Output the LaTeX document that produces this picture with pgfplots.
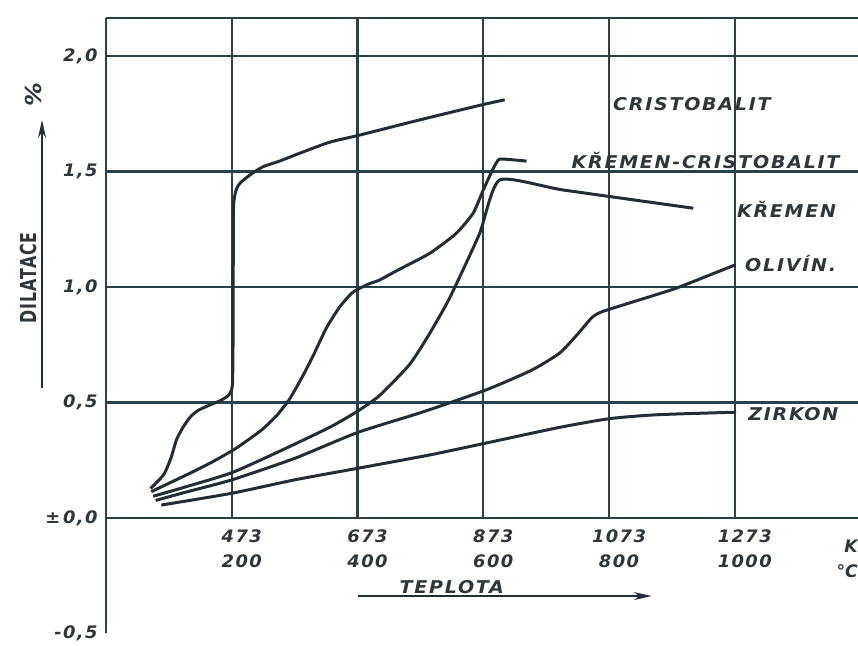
\documentclass[border=0pt]{standalone}
\usepackage{fontspec}
\setmainfont{DejaVu Sans}
\newfontfamily\hand{DejaVu Sans}[LetterSpace=10,FakeStretch=1.08]
\newfontfamily\handt{DejaVu Sans}[LetterSpace=8,FakeStretch=1.04]
\newfontfamily\handk{DejaVu Sans}
\newfontfamily\handc{DejaVu Sans}[FakeStretch=0.72,LetterSpace=4]
\usepackage{pgfplots}
\pgfplotsset{compat=1.18}
\usetikzlibrary{arrows.meta}
\definecolor{ink}{RGB}{34,46,54}
\definecolor{gridc}{RGB}{42,64,74}
\definecolor{txt}{RGB}{46,54,60}
\newcommand\tickfont{\handt\bfseries\itshape\fontsize{8.6}{12.5}\selectfont}
\newcommand\labfont{\hand\bfseries\itshape\fontsize{8.8}{11}\selectfont}

\pgfplotstableread{
T D
344 0.128
355 0.158
366 0.193
377 0.265
385 0.338
396 0.395
407 0.437
419 0.465
438 0.489
457 0.511
469 0.535
474 0.575
475 0.75
475.5 1.2
476 1.36
480 1.42
486 1.449
502 1.485
523 1.521
549 1.545
581 1.579
629 1.627
674 1.656
770 1.722
870 1.788
907 1.810
}\cristobalit

\pgfplotstableread{
T D
345 0.114
406 0.193
443 0.244
480 0.302
520 0.380
545 0.445
565 0.515
585 0.610
602 0.700
624 0.825
645 0.915
666 0.978
690 1.012
708 1.030
735 1.070
788 1.146
830 1.232
857 1.320
873 1.420
889 1.514
897 1.550
904 1.554
942 1.545
}\kremcris

\pgfplotstableread{
T D
348 0.094
400 0.135
473 0.196
550 0.290
629 0.393
673 0.462
708 0.530
756 0.665
788 0.800
820 0.955
867 1.230
899 1.463
1000 1.420
1207 1.341
}\kremen

\pgfplotstableread{
T D
352 0.076
400 0.112
473 0.165
573 0.258
673 0.370
778 0.460
878 0.555
950 0.640
995 0.715
1026 0.805
1046 0.868
1064 0.895
1146 0.965
1185 1.000
1273 1.095
}\olivin

\pgfplotstableread{
T D
361 0.056
473 0.107
573 0.165
673 0.215
788 0.273
875 0.323
994 0.392
1074 0.430
1150 0.447
1275 0.458
}\zirkon

\begin{document}
\begin{tikzpicture}
\begin{axis}[
  x=0.314375pt, y=115.5pt,
  xmin=273, xmax=1469, ymin=-0.5, ymax=2.165,
  axis x line*=middle, axis y line*=left,
  axis line style={draw=none},
  hide obscured x ticks=false, hide obscured y ticks=false,
  clip=false,
  major tick length=0pt,
  xtick={473,673,873,1073,1273},
  xticklabels={{473\\200},{673\\400},{873\\600},{1073\\800},{1273\\1000}},
  extra x ticks={1420},
  extra x tick labels={{K\\°C}},
  xticklabel style={align=center, font=\tickfont, text=txt, inner sep=0pt, anchor=north, xshift=5pt, yshift=-5.5pt},
  extra x tick style={xticklabel style={align=right, font=\handk\bfseries\itshape\fontsize{8.6}{12.5}\selectfont, text=txt, inner sep=0pt, anchor=north, xshift=5pt, yshift=-5.5pt}},
  ytick={-0.5,0,0.5,1,1.5,2},
  yticklabels={{-0,5},{±\,0,0},{0,5},{1,0},{1,5},{2,0}},
  yticklabel style={font=\tickfont, text=txt, inner sep=0pt, anchor=east, xshift=-4pt},
]
% frame and grid
\draw[gridc, line width=1.15pt] (axis cs:273,-0.5) -- (axis cs:273,2.165);
\draw[gridc, line width=1.15pt] (axis cs:273,2.165) -- (axis cs:1469,2.165);
\pgfplotsinvokeforeach{0,0.5,1,1.5,2}{
  \draw[gridc, line width=1.15pt] (axis cs:273,#1) -- (axis cs:1469,#1);
}
\pgfplotsinvokeforeach{473,673,873,1073,1273}{
  \draw[gridc, line width=1.15pt] (axis cs:#1,0) -- (axis cs:#1,2.165);
}
% curves
\addplot[ink, line width=1.5pt, smooth, tension=0.4] table[x=T,y=D] {\cristobalit};
\addplot[ink, line width=1.5pt, smooth, tension=0.35] table[x=T,y=D] {\kremcris};
\addplot[ink, line width=1.5pt, smooth, tension=0.35] table[x=T,y=D] {\kremen};
\addplot[ink, line width=1.5pt, smooth, tension=0.35] table[x=T,y=D] {\olivin};
\addplot[ink, line width=1.5pt, smooth, tension=0.4] table[x=T,y=D] {\zirkon};
% curve labels
\node[anchor=base west, inner sep=0pt, font=\labfont, text=txt] at (axis cs:1079,1.766) {CRISTOBALIT};
\node[anchor=base west, inner sep=0pt, font=\labfont, text=txt] at (axis cs:1013,1.515) {KŘEMEN-CRISTOBALIT};
\node[anchor=base west, inner sep=0pt, font=\labfont, text=txt] at (axis cs:1276,1.299) {KŘEMEN};
\node[anchor=base west, inner sep=0pt, font=\labfont, text=txt] at (axis cs:1289,1.065) {OLIVÍN.};
\node[anchor=base west, inner sep=0pt, font=\labfont, text=txt] at (axis cs:1294,0.424) {ZIRKON};
% axis titles
\node[rotate=90, inner sep=0pt, font=\handc\bfseries\fontsize{11}{12}\selectfont, text=txt] at ([xshift=-39pt]axis cs:273,1.04) {DILATACE};
\node[rotate=90, inner sep=0pt, font=\hand\bfseries\itshape\fontsize{11}{12}\selectfont, text=txt] at ([xshift=-36.5pt]axis cs:273,1.835) {\%};
\draw[ink, line width=1pt, -{Stealth[length=9pt,width=4pt]}] ([xshift=-32pt]axis cs:273,0.563) -- ([xshift=-32pt]axis cs:273,1.723);
\node[inner sep=0pt, font=\labfont, text=txt] at (axis cs:823,-0.299) {TEPLOTA};
\draw[ink, line width=1pt, -{Stealth[length=9pt,width=4pt]}] (axis cs:673,-0.338) -- (axis cs:1141,-0.338);
\coordinate (BL) at (axis cs:273,-0.5);
\end{axis}
\pgfresetboundingbox
\path (BL) ++(-53pt,-6.25pt) rectangle ++(429pt,323pt);
\end{tikzpicture}
\end{document}
